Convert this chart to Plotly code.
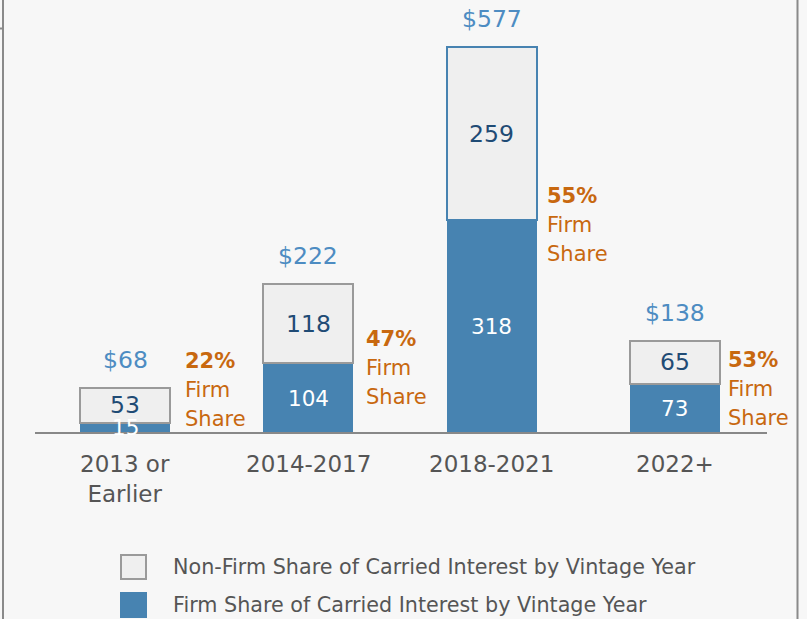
import plotly.graph_objects as go

categories = ["2013 or<br>Earlier", "2014-2017", "2018-2021", "2022+"]
firm_share = [15, 104, 318, 73]
non_firm_share = [53, 118, 259, 65]
totals = [68, 222, 577, 138]
firm_pct = ["22%", "47%", "55%", "53%"]
legend_labels = ["Non-Firm Share of Carried Interest by Vintage Year",
                 "Firm Share of Carried Interest by Vintage Year"]

W, H = 807, 619
FONT = "DejaVu Sans, sans-serif"
BG = "#f7f7f7"
BLUE = "#4783b1"
LIGHT = "#efefef"
GRAYLINE = "#9a9a9a"
TOTAL_C = "#4d8cc2"
NAVY = "#1f4b75"
ORANGE = "#c8680f"
TEXTGRAY = "#555555"
BAR_W = 0.49
LINE_GAP = 29

x = list(range(len(categories)))
highlight = 2
outline_colors = [BLUE if i == highlight else GRAYLINE for i in x]

fig = go.Figure()
fig.add_trace(go.Bar(x=x, y=firm_share, width=BAR_W, marker=dict(color=BLUE, line=dict(width=0)),
                     hoverinfo="skip", showlegend=False))
fig.add_trace(go.Bar(x=x, y=non_firm_share, width=BAR_W,
                     marker=dict(color=LIGHT, line=dict(color=outline_colors, width=2)),
                     hoverinfo="skip", showlegend=False))

ann = []
for i in x:
    f, n, t = firm_share[i], non_firm_share[i], totals[i]
    ann.append(dict(x=i, y=t, text=f"${t}", showarrow=False, yanchor="middle", yshift=28,
                    font=dict(size=23.5, color=TOTAL_C, family=FONT)))
    ann.append(dict(x=i, y=f + n / 2, text=str(n), showarrow=False, yanchor="middle",
                    font=dict(size=23.5, color=NAVY, family=FONT)))
    ann.append(dict(x=i, y=f / 2, text=str(f), showarrow=False, yanchor="middle",
                    font=dict(size=21.5, color="white", family=FONT)))
    share_lines = [f"<b>{firm_pct[i]}</b>", "Firm", "Share"]
    for j, line in enumerate(share_lines):
        ann.append(dict(x=i + BAR_W / 2, y=max(f, 72), text=line,
                        showarrow=False, xanchor="left", yanchor="middle", align="left",
                        xshift=13 - 2.3 * i, yshift=-5 + (1 - j) * LINE_GAP,
                        font=dict(size=21, color=ORANGE, family=FONT)))
    ann.append(dict(x=i, y=0, text=categories[i], showarrow=False, yanchor="top", yshift=-16,
                    font=dict(size=23, color=TEXTGRAY, family=FONT)))

def px(v):
    return v / W

def py(v):
    return 1 - v / H

shapes = [
    dict(type="line", xref="paper", yref="y", x0=px(35), x1=px(767), y0=0, y1=0,
         line=dict(color="#888888", width=2), layer="above"),
    dict(type="line", xref="paper", yref="paper", x0=px(3), x1=px(3), y0=0, y1=1,
         line=dict(color="#8a8a8a", width=2)),
    dict(type="line", xref="paper", yref="paper", x0=px(797.5), x1=px(797.5), y0=0, y1=1,
         line=dict(color="#8a8a8a", width=2)),
    dict(type="line", xref="paper", yref="paper", x0=0, x1=px(3), y0=py(28.5), y1=py(28.5),
         line=dict(color="#8a8a8a", width=2)),
]

legend_fill = [LIGHT, BLUE]
legend_line = [GRAYLINE, BLUE]
legend_y = [567, 605]
for j in range(2):
    cy = legend_y[j]
    shapes.append(dict(type="rect", xref="paper", yref="paper",
                       x0=px(121), x1=px(146), y0=py(cy - 12), y1=py(cy + 12),
                       fillcolor=legend_fill[j], line=dict(color=legend_line[j], width=2)))
    ann.append(dict(xref="paper", yref="paper", x=px(171), y=py(cy), text=legend_labels[j],
                    showarrow=False, xanchor="left", yanchor="middle",
                    font=dict(size=20.7, color=TEXTGRAY, family=FONT)))

k = 386 / 577
fig.update_layout(
    width=W, height=H, barmode="stack",
    margin=dict(l=0, r=0, t=0, b=0),
    paper_bgcolor=BG, plot_bgcolor=BG,
    xaxis=dict(range=[-125 / 183.33, -125 / 183.33 + W / 183.33], visible=False, fixedrange=True),
    yaxis=dict(range=[-(H - 433) / k, 433 / k], visible=False, fixedrange=True),
    annotations=ann, shapes=shapes, showlegend=False,
)
fig.write_html(
    "out.html",
    config={"displayModeBar": False},
    post_script="document.body.style.margin='0';document.body.style.overflow='hidden';"
                "document.body.style.background='#f7f7f7';",
)
